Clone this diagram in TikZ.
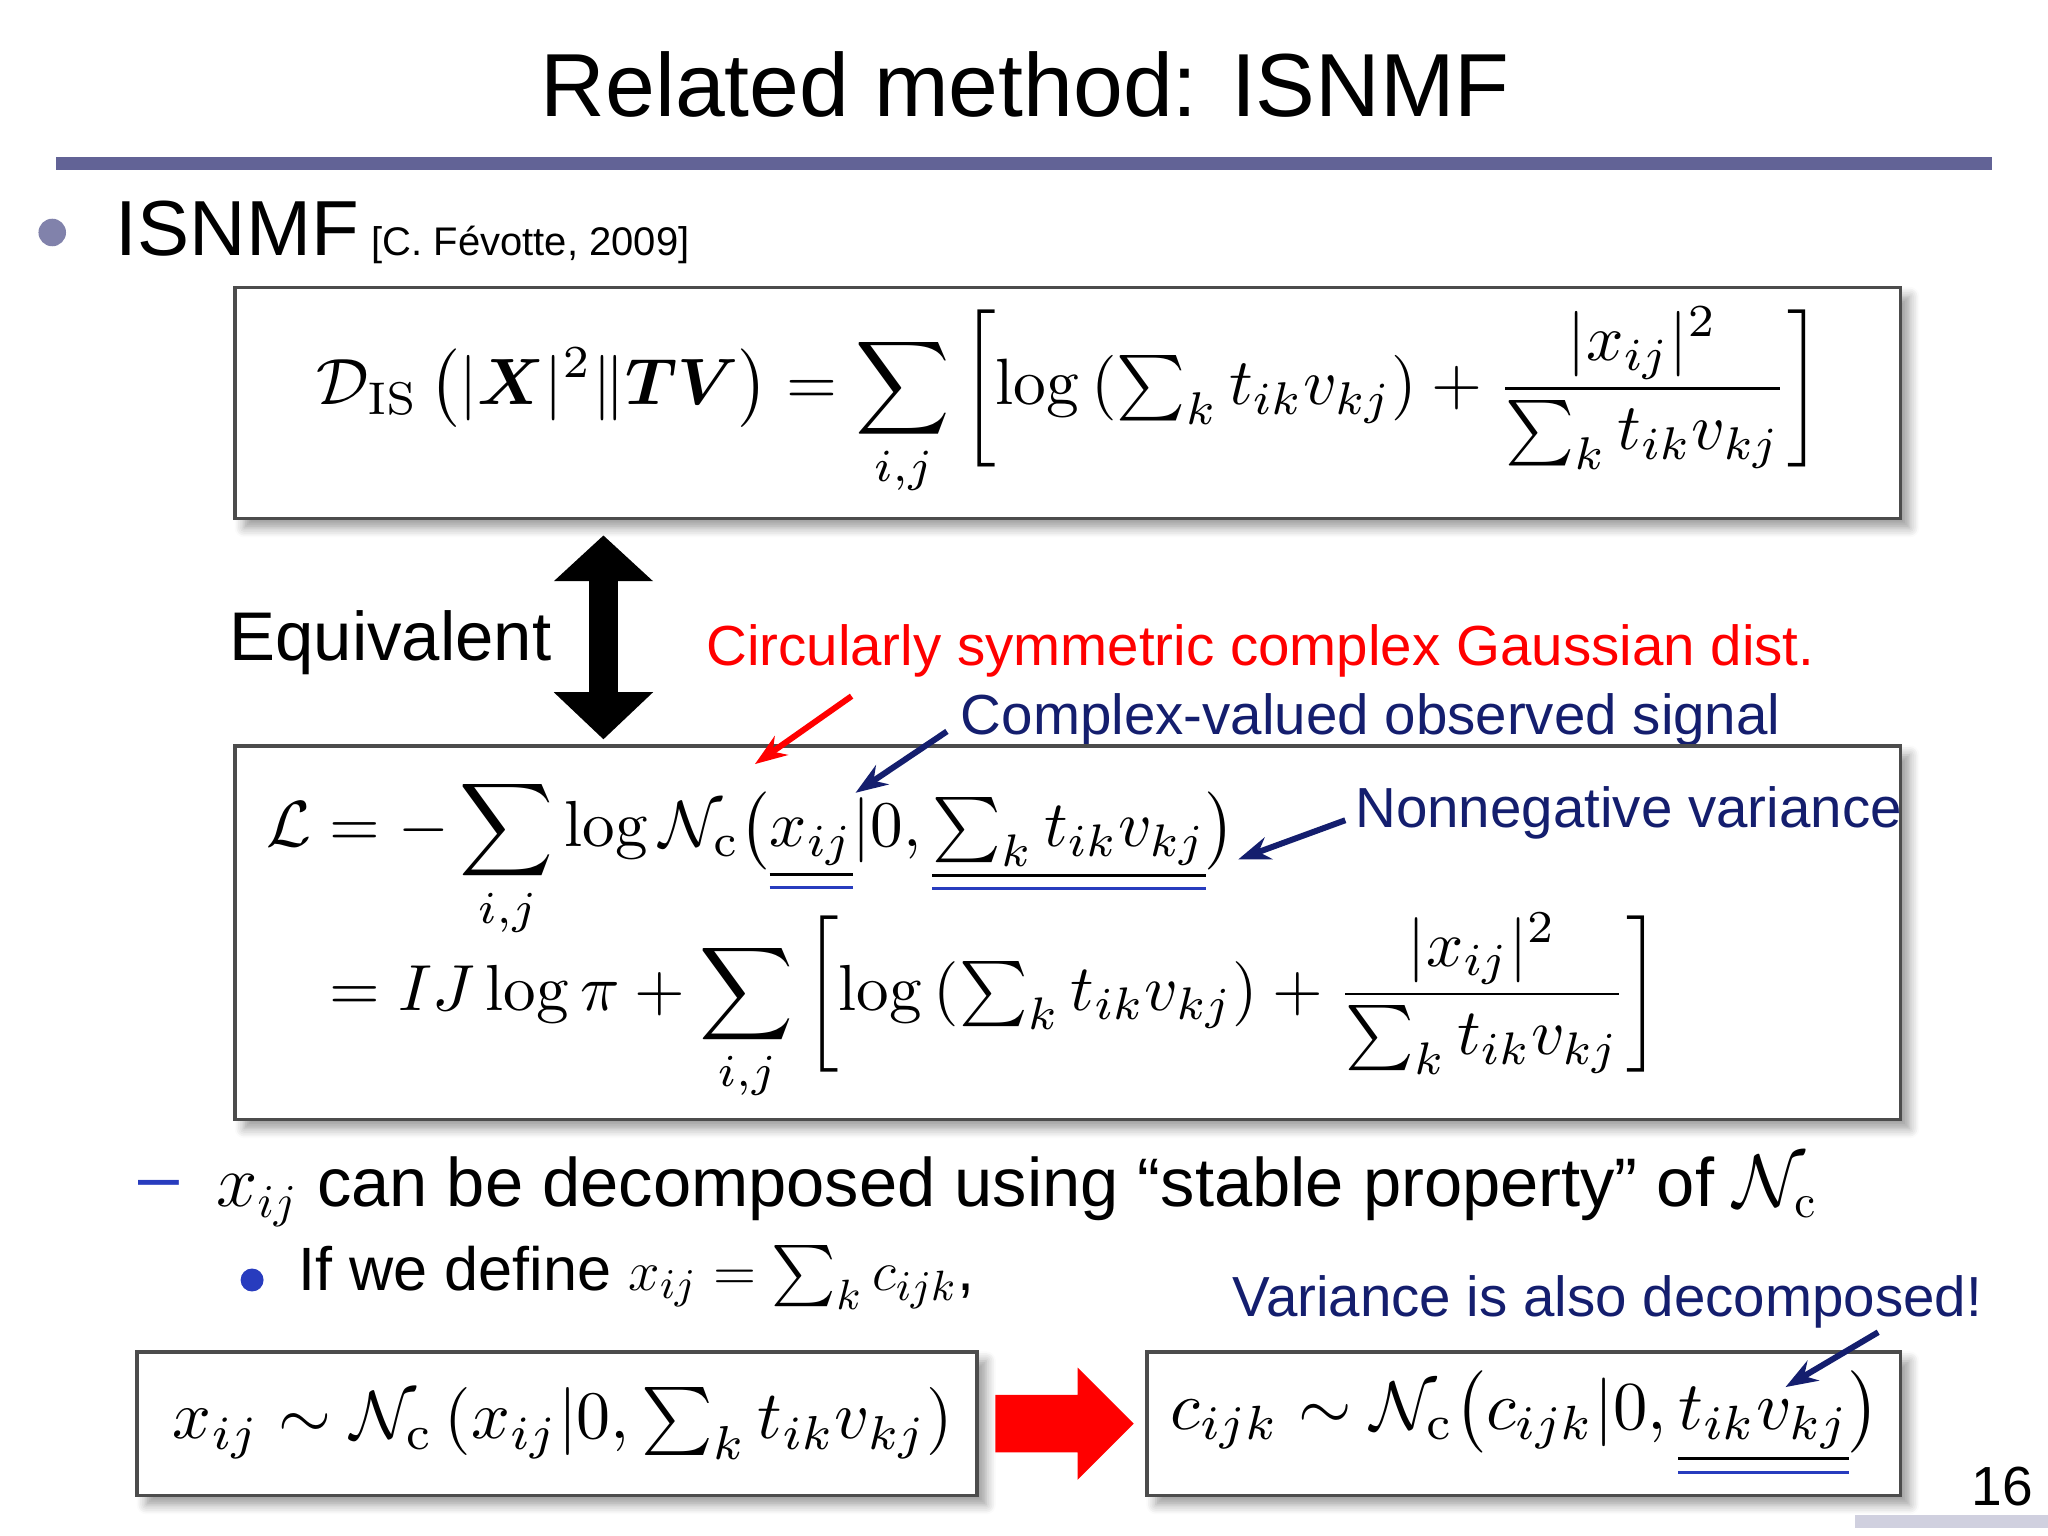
\documentclass[tikz,border=0pt]{standalone}
\usepackage{amsmath,amssymb}
\usepackage[no-math]{fontspec}
\setmainfont{Liberation Sans}
\usetikzlibrary{shadows.blur,arrows.meta}
\definecolor{rulec}{RGB}{98,99,150}
\definecolor{navy}{RGB}{20,30,110}
\definecolor{ublue}{RGB}{40,60,190}
\newcommand{\dul}[1]{{\color{ublue}\underline{\underline{\color{black}#1}}}}
\tikzset{eqbox/.style={draw=black!70,line width=0.8pt,fill=white,blur shadow={shadow blur steps=6,shadow xshift=2pt,shadow yshift=-2pt}},
 note/.style={inner sep=0pt,anchor=west},
 narr/.style={-{Stealth[length=7pt,width=5pt]},line width=1.3pt}}
\begin{document}
\begin{tikzpicture}[x=0.01cm,y=-0.01cm]
\useasboundingbox (0,0) rectangle (1568,1176);
\node (title) at (785,65) {\fontsize{19.5}{24}\selectfont Related method: ISNMF};
\fill[rulec] (43,120) rectangle (1525,130);
\node[circle,fill=rulec!80,inner sep=0pt,minimum size=6pt] (b1) at (40,178) {};
\node[note] (isnmf) at (88,178) {\fontsize{17}{20}\selectfont ISNMF\,\fontsize{8.7}{10}\selectfont [C. Févotte, 2009]};
% box1
\draw[eqbox] (180,220) rectangle (1455,397);
\node (f1) at (819,308) {\resizebox{11.52cm}{!}{$\displaystyle \mathcal{D}_{\mathrm{IS}}\left(|\boldsymbol{X}|^2\|\boldsymbol{TV}\right)=\sum_{i,j}\left[\log\left(\textstyle\sum_k t_{ik}v_{kj}\right)+\frac{|x_{ij}|^2}{\sum_k t_{ik}v_{kj}}\right]$}};
% double arrow
\fill[black] (462,410) -- (500,445) -- (473,445) -- (473,530) -- (500,530) -- (462,566) -- (424,530) -- (451,530) -- (451,445) -- (424,445) -- cycle;
\node[note] (eq) at (175,492) {\fontsize{15}{18}\selectfont Equivalent};
\node[note,text=red] (red) at (540,498) {\fontsize{12.3}{15}\selectfont Circularly symmetric complex Gaussian dist.};
\node[note,text=navy] (cv) at (735,551) {\fontsize{12.3}{15}\selectfont Complex-valued observed signal};
% box2
\draw[eqbox] (180,571) rectangle (1455,857);
\node (f2) at (738,720) {\resizebox{10.67cm}{!}{$\displaystyle \begin{aligned}\mathcal{L}&=-\sum_{i,j}\log\mathcal{N}_{\mathrm{c}}\bigl(\dul{x_{ij}}|0,\dul{\textstyle\sum_k t_{ik}v_{kj}}\bigr)\\[-8pt]
&=IJ\log\pi+\sum_{i,j}\left[\log\left(\textstyle\sum_k t_{ik}v_{kj}\right)+\frac{|x_{ij}|^2}{\sum_k t_{ik}v_{kj}}\right]\end{aligned}$}};
\node[note,text=navy] (nv) at (1037,622) {\fontsize{12.3}{15}\selectfont Nonnegative variance};
\coordinate (ra) at (578,585);
\coordinate (ba) at (655,607);
\coordinate (na) at (948,658);
\coordinate (rs) at (652,533);
\coordinate (bs) at (725,560);
\coordinate (ns) at (1030,628);
\draw[narr,red] (rs) -- (ra);
\draw[narr,navy] (bs) -- (ba);
\draw[narr,navy] (ns) -- (na);
% sub bullets
\node (dash) at (122,912) {\color{ublue}\fontsize{16}{18}\selectfont –};
\node[note] (dec) at (165,912) {\resizebox{12.25cm}{!}{\fontsize{16}{18}\selectfont $x_{ij}$ can be decomposed using “stable property” of $\mathcal{N}_{\mathrm{c}}$}};
\node[circle,fill=ublue,inner sep=0pt,minimum size=5pt] (b2) at (193,980) {};
\node[note] (def) at (228,978) {\resizebox{5.17cm}{!}{\fontsize{13}{15}\selectfont If we define $x_{ij}=\sum_k c_{ijk}$,}};
\node[note,text=navy] (vd) at (943,997) {\fontsize{12.3}{15}\selectfont Variance is also decomposed!};
% box3/4
\draw[eqbox] (105,1035) rectangle (748,1145);
\node (f3) at (431,1090) {\resizebox{5.97cm}{!}{$\displaystyle x_{ij}\sim\mathcal{N}_{\mathrm{c}}\left(x_{ij}|0,\textstyle\sum_k t_{ik}v_{kj}\right)$}};
\draw[eqbox] (878,1035) rectangle (1455,1145);
\node (f4) at (1168,1090) {\resizebox{5.43cm}{!}{$\displaystyle c_{ijk}\sim\mathcal{N}_{\mathrm{c}}\bigl(c_{ijk}|0,\dul{t_{ik}v_{kj}}\bigr)$}};
\fill[red] (762,1068) -- (825,1068) -- (825,1047) -- (868,1090) -- (825,1133) -- (825,1112) -- (762,1112) -- cycle;
\coordinate (va) at (1367,1062);
\coordinate (vs) at (1438,1020);
\draw[narr,navy] (vs) -- (va);
\node (pg) at (1533,1138) {\fontsize{12}{14}\selectfont 16};
\fill[rulec!30] (1420,1160) rectangle (1568,1170);
\end{tikzpicture}
\end{document}
